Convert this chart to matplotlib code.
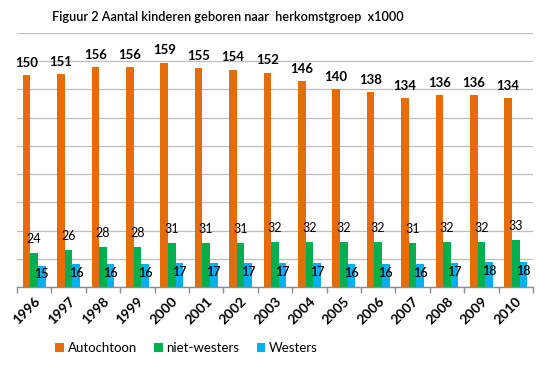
import matplotlib
matplotlib.use("Agg")
import matplotlib.pyplot as plt
import numpy as np
from matplotlib.patches import Patch

years = ["1996", "1997", "1998", "1999", "2000", "2001", "2002", "2003",
         "2004", "2005", "2006", "2007", "2008", "2009", "2010"]
autochtoon = [150, 151, 156, 156, 159, 155, 154, 152, 146, 140, 138, 134, 136, 136, 134]
niet_westers = [24, 26, 28, 28, 31, 31, 31, 32, 32, 32, 32, 31, 32, 32, 33]
westers = [15, 16, 16, 16, 17, 17, 17, 17, 17, 16, 16, 16, 17, 18, 18]
series_names = ["Autochtoon", "niet-westers", "Westers"]
colors = ["#E46C0A", "#00B050", "#00B0F0"]
title = "Figuur 2 Aantal kinderen geboren naar  herkomstgroep  x1000"

plt.rcParams['font.family'] = ['Lato', 'DejaVu Sans']

fig = plt.figure(figsize=(5.54, 3.71), dpi=100)
ax = fig.add_axes([0.0307, 0.2264, 0.9313, 0.6846])

x = np.arange(len(years))
w = 0.22
ax.bar(x - w, autochtoon, w, color=colors[0], zorder=2)
ax.bar(x, niet_westers, w, color=colors[1], zorder=2)
ax.bar(x + w, westers, w, color=colors[2], zorder=2)

for xi, v in zip(x, autochtoon):
    ax.annotate(str(v), (xi - w, v), xytext=(0, 4.5), textcoords="offset points",
                ha="center", va="bottom", fontsize=9.5, fontweight="bold", zorder=3)
for xi, v in zip(x, niet_westers):
    ax.annotate(str(v), (xi, v), xytext=(0, 6), textcoords="offset points",
                ha="center", va="bottom", fontsize=9, zorder=3)
for xi, v in zip(x, westers):
    ax.annotate(str(v), (xi + w, v * 0.62), ha="center", va="center",
                fontsize=9, fontweight="semibold", zorder=3)

ax.set_xlim(-0.5, len(years) - 0.5)
ax.set_ylim(0, 180)
ax.set_yticks(np.arange(0, 181, 20))
ax.yaxis.grid(True, color="#BEBEBE", linewidth=0.9, zorder=0)
ax.tick_params(axis="y", left=False, labelleft=False)
for s in ["left", "right", "top"]:
    ax.spines[s].set_visible(False)
ax.spines["bottom"].set_color("#8C8C8C")
ax.spines["bottom"].set_linewidth(1.0)

ax.set_xticks(x)
ax.set_xticklabels(years, rotation=45, ha="right", rotation_mode="anchor",
                   fontsize=10, fontweight="bold")
ax.tick_params(axis="x", which="major", length=0, pad=6)
ax.set_xticks(np.arange(-0.5, len(years)), minor=True)
ax.tick_params(axis="x", which="minor", length=4, color="#8C8C8C", width=1.0)

fig.text(0.094, 0.955, title, fontsize=9.2, fontweight="semibold", va="center", ha="left")

handles = [Patch(facecolor=c, edgecolor="none") for c in colors]
fig.legend(handles, series_names, loc="center left", bbox_to_anchor=(0.078, 0.062),
           ncol=3, frameon=False, fontsize=9.5, handlelength=0.65, handleheight=0.65,
           handletextpad=0.3, columnspacing=1.3)

fig.savefig("out.png", dpi=100)
